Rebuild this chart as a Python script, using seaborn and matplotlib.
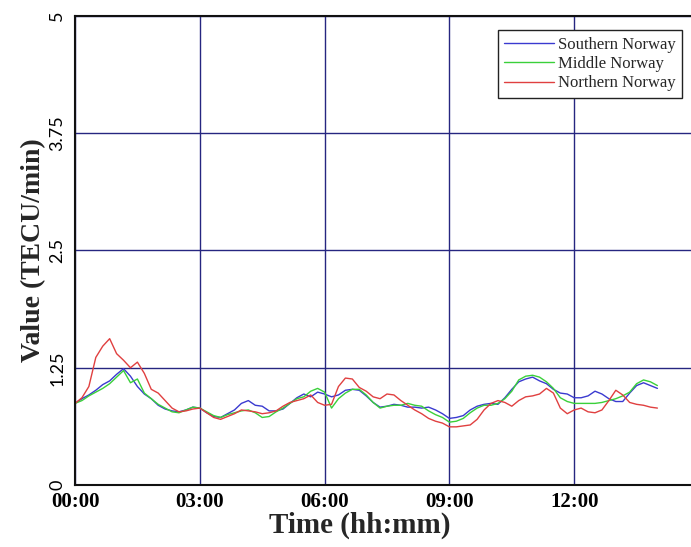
import numpy as np
import pandas as pd
import matplotlib
matplotlib.use("Agg")
import matplotlib.pyplot as plt
import seaborn as sns

# Time axis: 10-minute samples from 00:00 to 14:00 (hours)
time_h = np.arange(85) / 6.0

southern = [0.87, 0.92, 0.96, 1.01, 1.07, 1.11, 1.18, 1.24, 1.16, 1.05,
            0.97, 0.92, 0.85, 0.81, 0.79, 0.78, 0.80, 0.83, 0.82, 0.77,
            0.73, 0.72, 0.76, 0.80, 0.87, 0.90, 0.85, 0.84, 0.79, 0.79,
            0.81, 0.87, 0.93, 0.97, 0.94, 0.99, 0.97, 0.94, 0.96, 1.01,
            1.02, 1.01, 0.95, 0.88, 0.83, 0.84, 0.86, 0.85, 0.83, 0.83,
            0.82, 0.83, 0.80, 0.76, 0.71, 0.72, 0.74, 0.80, 0.84, 0.86,
            0.87, 0.86, 0.93, 1.02, 1.10, 1.13, 1.15, 1.11, 1.08, 1.02,
            0.98, 0.97, 0.93, 0.93, 0.95, 1.00, 0.97, 0.92, 0.89, 0.89,
            0.98, 1.06, 1.09, 1.06, 1.03]

middle = [0.87, 0.90, 0.95, 0.99, 1.03, 1.08, 1.15, 1.22, 1.09, 1.13,
          0.98, 0.92, 0.86, 0.82, 0.78, 0.77, 0.80, 0.83, 0.82, 0.78,
          0.74, 0.72, 0.75, 0.77, 0.79, 0.80, 0.77, 0.72, 0.73, 0.78,
          0.82, 0.87, 0.92, 0.94, 1.00, 1.03, 0.99, 0.82, 0.92, 0.98,
          1.02, 1.02, 0.96, 0.88, 0.82, 0.84, 0.85, 0.85, 0.87, 0.85,
          0.84, 0.79, 0.75, 0.72, 0.67, 0.68, 0.71, 0.77, 0.82, 0.85,
          0.85, 0.87, 0.92, 1.00, 1.12, 1.16, 1.17, 1.15, 1.10, 1.03,
          0.93, 0.89, 0.87, 0.87, 0.87, 0.87, 0.88, 0.90, 0.92, 0.95,
          0.99, 1.08, 1.12, 1.10, 1.06]

northern = [0.87, 0.93, 1.05, 1.36, 1.48, 1.56, 1.40, 1.33, 1.25, 1.31,
            1.19, 1.02, 0.98, 0.90, 0.82, 0.78, 0.79, 0.81, 0.82, 0.77,
            0.72, 0.70, 0.73, 0.76, 0.80, 0.79, 0.78, 0.76, 0.77, 0.79,
            0.84, 0.88, 0.90, 0.92, 0.96, 0.88, 0.85, 0.86, 1.05, 1.14,
            1.13, 1.04, 1.00, 0.94, 0.92, 0.97, 0.96, 0.90, 0.85, 0.80,
            0.76, 0.71, 0.68, 0.66, 0.62, 0.62, 0.63, 0.64, 0.70, 0.80,
            0.87, 0.90, 0.88, 0.84, 0.90, 0.94, 0.95, 0.97, 1.03, 0.98,
            0.82, 0.76, 0.80, 0.82, 0.78, 0.77, 0.80, 0.90, 1.01, 0.96,
            0.88, 0.86, 0.85, 0.83, 0.82]

regions = ["Southern Norway", "Middle Norway", "Northern Norway"]
colors = ["#3a3ad0", "#3ad03a", "#e04040"]

x_ticks = [0, 3, 6, 9, 12]
x_tick_labels = ["00:00", "03:00", "06:00", "09:00", "12:00"]
y_ticks = [0, 1.25, 2.5, 3.75, 5]
y_tick_labels = ["0", "1.25", "2.5", "3.75", "5"]

df = pd.concat([
    pd.DataFrame({"time": time_h, "value": vals, "region": name})
    for name, vals in zip(regions, [southern, middle, northern])
])

sns.set_theme(style="white")
plt.rcParams["font.family"] = ["Liberation Serif", "DejaVu Serif"]

fig = plt.figure(figsize=(6.91, 5.47), dpi=100)
# right spine sits just past the canvas edge (axis runs to 15:00)
ax = fig.add_axes([75 / 691, 62 / 547, 624 / 691, 469 / 547])

sns.lineplot(data=df, x="time", y="value", hue="region", hue_order=regions,
             palette=colors, linewidth=1.0, ax=ax, legend=True)

ax.set_xlim(0, 15)
ax.set_ylim(0, 5)
ax.set_xticks(x_ticks)
ax.set_xticklabels(x_tick_labels, fontsize=15, fontweight="bold")
ax.set_yticks(y_ticks)
ax.set_yticklabels(y_tick_labels, fontsize=13, rotation=90, va="center",
                   family=["Lato", "DejaVu Sans"])
ax.tick_params(axis="both", length=0, colors="black")
ax.tick_params(axis="x", pad=5)
ax.tick_params(axis="y", pad=7)

ax.grid(True, color="#262680", linewidth=1.0)
ax.set_axisbelow(True)
for sp in ax.spines.values():
    sp.set_color("#111111")
    sp.set_linewidth(1.5)

ax.set_xlabel("Time (hh:mm)", fontsize=21, fontweight="bold")
ax.xaxis.set_label_coords(0.457, -0.056)
ax.set_ylabel("Value (TECU/min)", fontsize=20, fontweight="bold", labelpad=2)

leg = ax.legend(loc="upper right", bbox_to_anchor=(0.9728, 0.9701),
                fontsize=12, frameon=True, fancybox=False, handlelength=3.0,
                handletextpad=0.2, borderpad=0.4, labelspacing=0.2,
                borderaxespad=0.0)
leg.get_frame().set_edgecolor("#222222")
leg.get_frame().set_linewidth(1.0)
leg.get_frame().set_alpha(1.0)
for line in leg.get_lines():
    line.set_linewidth(1.0)

fig.savefig("out.png", dpi=100)
